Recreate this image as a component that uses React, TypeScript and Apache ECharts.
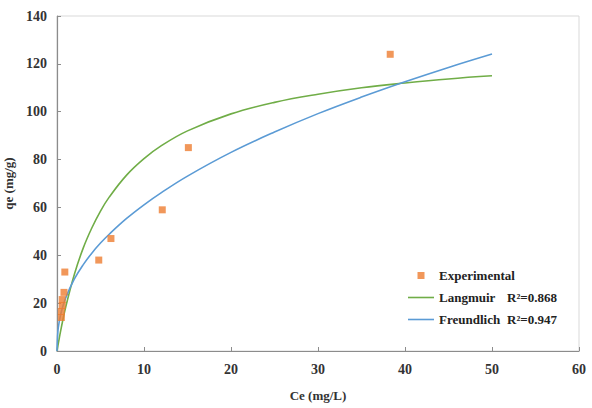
import React, { useEffect, useRef } from "react";
import * as echarts from "echarts";

const expC = [38.3, 15.1, 12.1, 6.2, 4.8, 0.9, 0.8, 0.6, 0.6, 0.5, 0.5];
const expQ = [124, 85, 59, 47, 38, 33, 24.5, 21.5, 19, 16.5, 14];

const curveC = [0, 0.1, 0.25, 0.5, 1, 2, 3, 4, 5, 6, 8, 10, 12, 15, 20, 25, 30, 35, 40, 45, 50];
const langmuirQ = [0, 2.1, 5.1, 9.9, 18.4, 32.1, 42.9, 51.4, 58.5, 64.3, 73.5, 80.4, 85.8, 92.0, 99.1, 103.9, 107.3, 110.0, 112.0, 113.7, 115.0];
const freundlichQ = [0, 8.1, 12.1, 16.4, 22.2, 30.1, 36.0, 40.9, 45.1, 48.8, 55.4, 61.1, 66.2, 73.1, 83.0, 91.5, 99.2, 106.1, 112.5, 118.5, 124.1];

const seriesNames = ["Experimental", "Langmuir", "Freundlich"];
const r2Labels: Record<string, string> = { Langmuir: "R²=0.868", Freundlich: "R²=0.947" };

const FONT = "'Liberation Serif', 'Times New Roman', serif";
const SQUARE_ICON = "path://M0,0 L7,0 L7,7 L0,7 Z";
const LINE_ICON = "path://M0,0 L26,0 L26,1.6 L0,1.6 Z";

export default function App() {
  const ref = useRef<HTMLDivElement>(null);
  useEffect(() => {
    if (!ref.current) return;
    const chart = echarts.init(ref.current, undefined, { renderer: "svg" });
    const pair = (xs: number[], ys: number[]) => xs.map((x, i) => [x, ys[i]]);
    chart.setOption({
      animation: false,
      backgroundColor: "#ffffff",
      grid: {
        left: 57,
        right: 13,
        top: 16,
        bottom: 57,
        containLabel: false,
        outerBoundsMode: "none",
        show: true,
        borderColor: "#d9d9d9",
        borderWidth: 1,
      },
      legend: {
        orient: "vertical",
        left: 403,
        top: 264,
        itemWidth: 26,
        itemHeight: 7,
        itemGap: 9,
        symbolKeepAspect: true,
        data: [
          { name: seriesNames[0], icon: SQUARE_ICON },
          { name: seriesNames[1], icon: LINE_ICON },
          { name: seriesNames[2], icon: LINE_ICON },
        ],
        textStyle: {
          fontFamily: FONT,
          fontWeight: "bold",
          fontSize: 13,
          color: "#222",
          rich: {
            n: { width: 68, fontFamily: FONT, fontWeight: "bold", fontSize: 13, color: "#222" },
            r: { fontFamily: FONT, fontWeight: "bold", fontSize: 13, color: "#222" },
          },
        },
        formatter: (name: string) =>
          r2Labels[name] ? `{n|${name}}{r|${r2Labels[name]}}` : name,
      },
      xAxis: {
        type: "value",
        min: 0,
        max: 60,
        interval: 10,
        name: "Ce (mg/L)",
        nameLocation: "middle",
        nameGap: 38,
        nameTextStyle: { fontFamily: FONT, fontWeight: "bold", fontSize: 13, color: "#333" },
        axisLine: { show: true, lineStyle: { color: "#8c8c8c", width: 1.2 } },
        axisTick: { show: true, inside: true, length: 4, lineStyle: { color: "#8c8c8c" } },
        axisLabel: { fontFamily: FONT, fontWeight: "bold", fontSize: 14, color: "#333", margin: 11 },
        splitLine: { show: false },
      },
      yAxis: {
        type: "value",
        min: 0,
        max: 140,
        interval: 20,
        name: "qe (mg/g)",
        nameLocation: "middle",
        nameGap: 40,
        nameTextStyle: { fontFamily: FONT, fontWeight: "bold", fontSize: 13, color: "#333" },
        axisLine: { show: true, lineStyle: { color: "#8c8c8c", width: 1.2 } },
        axisTick: { show: true, inside: true, length: 4, lineStyle: { color: "#8c8c8c" } },
        axisLabel: { fontFamily: FONT, fontWeight: "bold", fontSize: 14, color: "#333", margin: 10 },
        splitLine: { show: false },
      },
      series: [
        {
          name: "Experimental",
          type: "scatter",
          symbol: "rect",
          symbolSize: 7,
          itemStyle: { color: "#ED7D31" },
          data: pair(expC, expQ),
          z: 5,
        },
        {
          name: "Langmuir",
          type: "line",
          symbol: "none",
          smooth: 0.4,
          lineStyle: { color: "#70AD47", width: 1.6 },
          itemStyle: { color: "#70AD47" },
          data: pair(curveC, langmuirQ),
        },
        {
          name: "Freundlich",
          type: "line",
          symbol: "none",
          smooth: 0.4,
          lineStyle: { color: "#5B9BD5", width: 1.6 },
          itemStyle: { color: "#5B9BD5" },
          data: pair(curveC, freundlichQ),
        },
      ],
    });
    return () => chart.dispose();
  }, []);
  return (
    <div
      ref={ref}
      style={{ position: "fixed", left: 0, top: 0, width: 592, height: 408, background: "#fff" }}
    />
  );
}
